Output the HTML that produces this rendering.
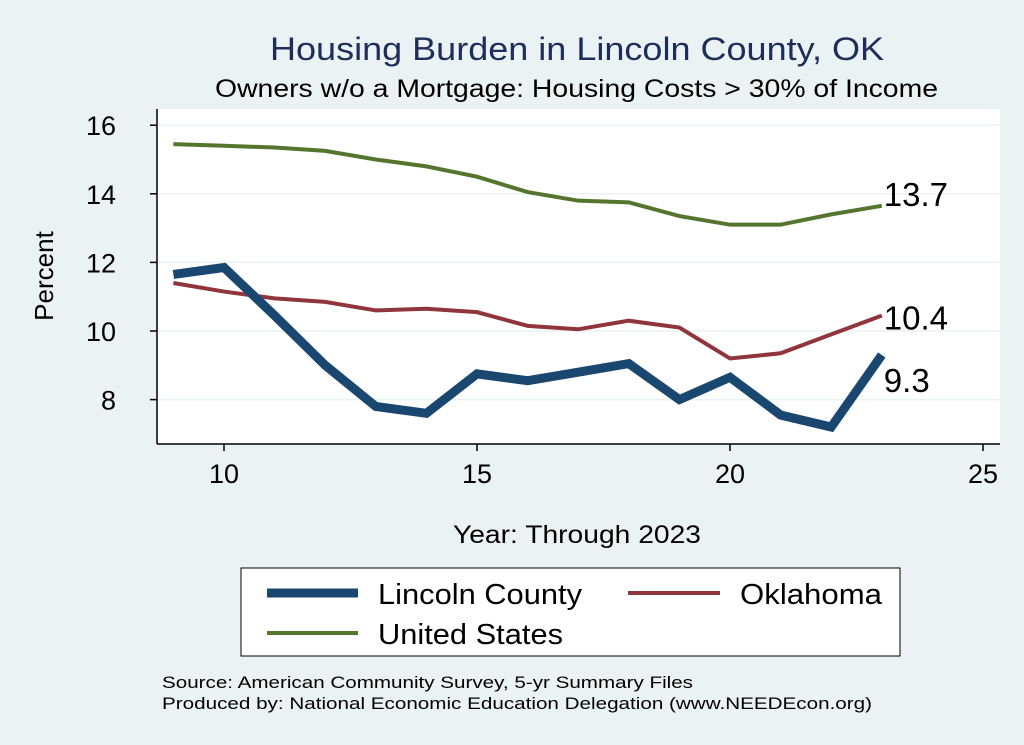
<!DOCTYPE html>
<html><head><meta charset="utf-8"><style>
body{margin:0;background:#eaf2f3;}
svg{display:block;font-family:"Liberation Sans",Arial,sans-serif;}
</style></head><body>
<svg width="1024" height="745" viewBox="0 0 1024 745">
<rect x="0" y="0" width="1024" height="745" fill="#eaf2f3"/>
<text x="270" y="60" font-size="32" fill="#1e2d5a" textLength="614" lengthAdjust="spacingAndGlyphs">Housing Burden in Lincoln County, OK</text>
<text x="215" y="97" font-size="25" fill="#000" textLength="723" lengthAdjust="spacingAndGlyphs">Owners w/o a Mortgage: Housing Costs &gt; 30% of Income</text>
<rect x="157" y="109" width="843" height="335" fill="#fff"/>
<g id="grid"></g>
<g id="series"></g>
<line x1="157" y1="109" x2="157" y2="444" stroke="#000" stroke-width="1.5"/>
<line x1="157" y1="444" x2="1000" y2="444" stroke="#000" stroke-width="1.5"/>
<g id="ticks"></g>
<text x="53" y="276" font-size="26" text-anchor="middle" transform="rotate(-90 53 276)">Percent</text>
<text x="453" y="543" font-size="25" textLength="248" lengthAdjust="spacingAndGlyphs">Year: Through 2023</text>
<g>
<rect x="241" y="568" width="659" height="88" fill="#fff" stroke="#000" stroke-width="1"/>
<line x1="267" y1="593" x2="358" y2="593" stroke="#1a476f" stroke-width="9"/>
<text x="378" y="604" font-size="29" textLength="204" lengthAdjust="spacingAndGlyphs">Lincoln County</text>
<line x1="628" y1="593" x2="720" y2="593" stroke="#90353b" stroke-width="4"/>
<text x="740" y="604" font-size="29" textLength="142" lengthAdjust="spacingAndGlyphs">Oklahoma</text>
<line x1="267" y1="633" x2="358" y2="633" stroke="#55752f" stroke-width="4"/>
<text x="378" y="644" font-size="29" textLength="185" lengthAdjust="spacingAndGlyphs">United States</text>
</g>
<text x="162" y="688" font-size="17" textLength="531" lengthAdjust="spacingAndGlyphs">Source: American Community Survey, 5-yr Summary Files</text>
<text x="162" y="709" font-size="17" textLength="710" lengthAdjust="spacingAndGlyphs">Produced by: National Economic Education Delegation (www.NEEDEcon.org)</text>
</svg>
<script>
const years=[9,10,11,12,13,14,15,16,17,18,19,20,21,22,23];
const lincoln=[11.65,11.85,10.45,9.0,7.8,7.6,8.75,8.55,8.8,9.05,8.0,8.65,7.55,7.2,9.3];
const oklahoma=[11.4,11.15,10.95,10.85,10.6,10.65,10.55,10.15,10.05,10.3,10.1,9.2,9.35,9.9,10.45];
const unitedStates=[15.45,15.4,15.35,15.25,15.0,14.8,14.5,14.05,13.8,13.75,13.35,13.1,13.1,13.4,13.65];
const xTicks=[10,15,20,25];
const yTicks=[8,10,12,14,16];
const endLabels=["9.3","10.4","13.7"];
const NS="http://www.w3.org/2000/svg";
function xs(v){return 224+(v-10)*50.6;}
function ys(v){return 331-(v-10)*34.3;}
function mk(t,a,p){const e=document.createElementNS(NS,t);for(const k in a)e.setAttribute(k,a[k]);p.appendChild(e);return e;}
const grid=document.getElementById('grid'),ticks=document.getElementById('ticks'),ser=document.getElementById('series');
yTicks.forEach(v=>{
 const g=mk('line',{x1:157,x2:1000,y1:ys(v),y2:ys(v),stroke:'#eaf2f3','stroke-width':1.5},grid);
 
 
 const t=mk('line',{x1:150,x2:157,y1:ys(v),y2:ys(v),stroke:'#000','stroke-width':1.5},ticks);
 
 
 const l=mk('text',{x:116,y:ys(v)+10,'font-size':27,'text-anchor':'end'},ticks);
 l.textContent=v;
 
 
});
xTicks.forEach(v=>{
 const t=mk('line',{x1:xs(v),x2:xs(v),y1:444,y2:451,stroke:'#000','stroke-width':1.5},ticks);
 
 
 const l=mk('text',{x:xs(v),y:483,'font-size':27,'text-anchor':'middle'},ticks);
 l.textContent=v;
 
 
});
function line(data,color,w,name){
 const p=mk('polyline',{points:data.map((v,i)=>xs(years[i])+','+ys(v)).join(' '),fill:'none',stroke:color,'stroke-width':w,'stroke-linejoin':'miter'},ser);
 
 
}
line(unitedStates,'#55752f',4,'line-united-states');
line(oklahoma,'#90353b',4,'line-oklahoma');
line(lincoln,'#1a476f',9,'line-lincoln-county');
const last=years.length-1;
[[lincoln,0,25],[oklahoma,1,2],[unitedStates,2,-12]].forEach(([d,i,dy])=>{
 const t=mk('text',{x:xs(years[last])+2,y:ys(d[last])+12+dy,'font-size':33},ser);
 t.textContent=endLabels[i];
 
 
});
</script>
</body></html>
